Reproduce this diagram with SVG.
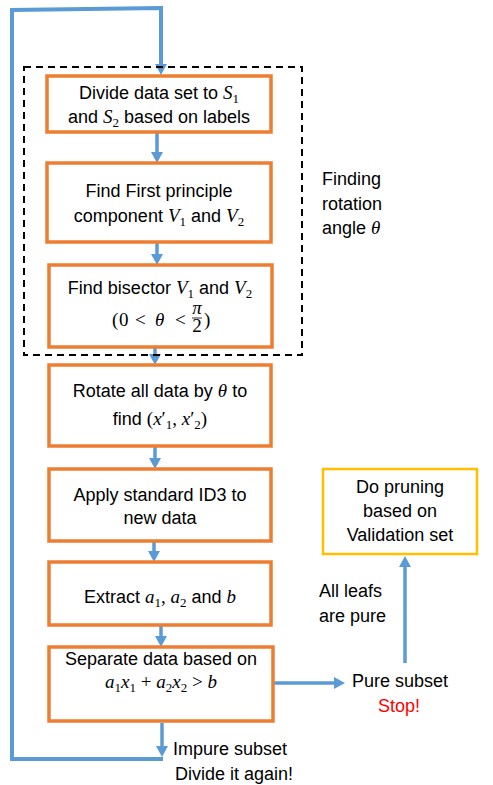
<svg xmlns="http://www.w3.org/2000/svg" width="493" height="785" viewBox="0 0 493 785">
<defs>
<marker id="ah" markerUnits="userSpaceOnUse" markerWidth="11" markerHeight="12" refX="0" refY="6" orient="auto" viewBox="0 0 11 12">
<path d="M0,0 L11,6 L0,12 z" fill="#5B9BD5"/>
</marker>
<style>
.box{fill:#fff;stroke:#ED7D31;stroke-width:3.5}
.ybox{fill:#fff;stroke:#FFC000;stroke-width:2.5}
.t{font-family:"Liberation Sans",Arial,sans-serif;font-size:18px;fill:#000}
.c{text-anchor:middle}
.m{font-family:"Liberation Serif","Times New Roman",serif;font-style:italic;font-size:19px}
.n{font-family:"Liberation Serif","Times New Roman",serif;font-size:19px}
.s{font-family:"Liberation Serif","Times New Roman",serif;font-size:13px;font-style:normal}
.ln{fill:none;stroke:#5B9BD5;stroke-width:4}
.la{fill:none;stroke:#5B9BD5;stroke-width:3.5;marker-end:url(#ah)}
</style>
</defs>
<g id="connectors">
<path class="ln" d="M12,759 L163,759"/>
<path class="ln" d="M12,761 L12,10 L161,8 L161,64" style="marker-end:url(#ah)"/>
<path class="la" d="M157,132 L157,152"/>
<path class="la" d="M157,242 L157,254"/>
<path class="la" d="M155,347 L155,354"/>
<path class="la" d="M155,446 L155,458"/>
<path class="la" d="M154,541 L154,551"/>
<path class="la" d="M161,625 L161,636"/>
<path class="la" d="M162,723 L162,746"/>
<path class="la" d="M273,683 L334,683"/>
<path class="la" d="M405,663 L405,567"/>
</g>
<g id="group-rotation">
<rect x="24" y="67" width="278" height="288" fill="none" stroke="#000" stroke-width="2" stroke-dasharray="7,5"/>
<text class="t" x="322" y="185">Finding</text>
<text class="t" x="322" y="210">rotation</text>
<text class="t" x="322" y="234">angle <tspan class="m">θ</tspan></text>
</g>
<g id="n1">
<rect class="box" x="47" y="76" width="224" height="56"/>
<text class="t c" x="159" y="99">Divide data set to <tspan class="m">S</tspan><tspan class="s" dy="4">1</tspan></text>
<text class="t c" x="159" y="123">and <tspan class="m">S</tspan><tspan class="s" dy="4">2</tspan><tspan dy="-4"> based on labels</tspan></text>
</g>
<g id="n2">
<rect class="box" x="47" y="163" width="224" height="79"/>
<text class="t c" x="159" y="197">Find First principle</text>
<text class="t c" x="159" y="222">component <tspan class="m">V</tspan><tspan class="s" dy="4">1</tspan><tspan dy="-4"> and </tspan><tspan class="m">V</tspan><tspan class="s" dy="4">2</tspan></text>
</g>
<g id="n3">
<rect class="box" x="49" y="265" width="223" height="82"/>
<text class="t c" x="160" y="294">Find bisector <tspan class="m">V</tspan><tspan class="s" dy="4">1</tspan><tspan dy="-4"> and </tspan><tspan class="m">V</tspan><tspan class="s" dy="4">2</tspan></text>
<text class="n" x="112" y="326" font-size="20">(<tspan x="119">0</tspan><tspan x="135">&lt;</tspan><tspan class="m" x="155" font-size="20">θ</tspan><tspan x="175">&lt;</tspan></text>
<text class="m" x="197" y="314" text-anchor="middle" font-size="11">π</text>
<line x1="192" y1="318" x2="202" y2="318" stroke="#000" stroke-width="0.8"/>
<text class="n" x="197" y="332" text-anchor="middle" font-size="11">2</text>
<text class="n" x="204" y="326" font-size="20">)</text>
</g>
<g id="n4">
<rect class="box" x="49" y="365" width="222" height="81"/>
<text class="t c" x="160" y="397">Rotate all data by <tspan class="m">θ</tspan> to</text>
<text class="t c" x="160" y="425">find <tspan class="n">(</tspan><tspan class="m">x</tspan><tspan class="n">′</tspan><tspan class="s" dy="4">1</tspan><tspan class="n" dy="-4">, </tspan><tspan class="m">x</tspan><tspan class="n">′</tspan><tspan class="s" dy="4">2</tspan><tspan class="n" dy="-4">)</tspan></text>
</g>
<g id="n5">
<rect class="box" x="49" y="469" width="222" height="72"/>
<text class="t c" x="160" y="501">Apply standard ID3 to</text>
<text class="t c" x="160" y="524">new data</text>
</g>
<g id="n6">
<rect class="box" x="49" y="562" width="222" height="63"/>
<text class="t c" x="160" y="603">Extract <tspan class="m">a</tspan><tspan class="s" dy="4">1</tspan><tspan class="n" dy="-4">, </tspan><tspan class="m">a</tspan><tspan class="s" dy="4">2</tspan><tspan dy="-4"> and </tspan><tspan class="m">b</tspan></text>
</g>
<g id="n7">
<rect class="box" x="49" y="647" width="224" height="74"/>
<text class="t c" x="161" y="665">Separate data based on</text>
<text class="n c" x="161" y="688"><tspan class="m">a</tspan><tspan class="s" dy="4">1</tspan><tspan class="m" dy="-4">x</tspan><tspan class="s" dy="4">1</tspan><tspan dy="-4"> + </tspan><tspan class="m">a</tspan><tspan class="s" dy="4">2</tspan><tspan class="m" dy="-4">x</tspan><tspan class="s" dy="4">2</tspan><tspan dy="-4"> &gt; </tspan><tspan class="m">b</tspan></text>
</g>
<g id="n8">
<rect class="ybox" x="323" y="469" width="154" height="85"/>
<text class="t c" x="400" y="493">Do pruning</text>
<text class="t c" x="400" y="517">based on</text>
<text class="t c" x="400" y="541">Validation set</text>
</g>
<g id="labels">
<text class="t" x="319" y="597">All leafs</text>
<text class="t" x="319" y="622">are pure</text>
<text class="t" x="352" y="687">Pure subset</text>
<text class="t c" x="399" y="712" style="fill:#FF0000">Stop!</text>
<text class="t" x="173" y="755">Impure subset</text>
<text class="t" x="175" y="780">Divide it again!</text>
</g>
</svg>
